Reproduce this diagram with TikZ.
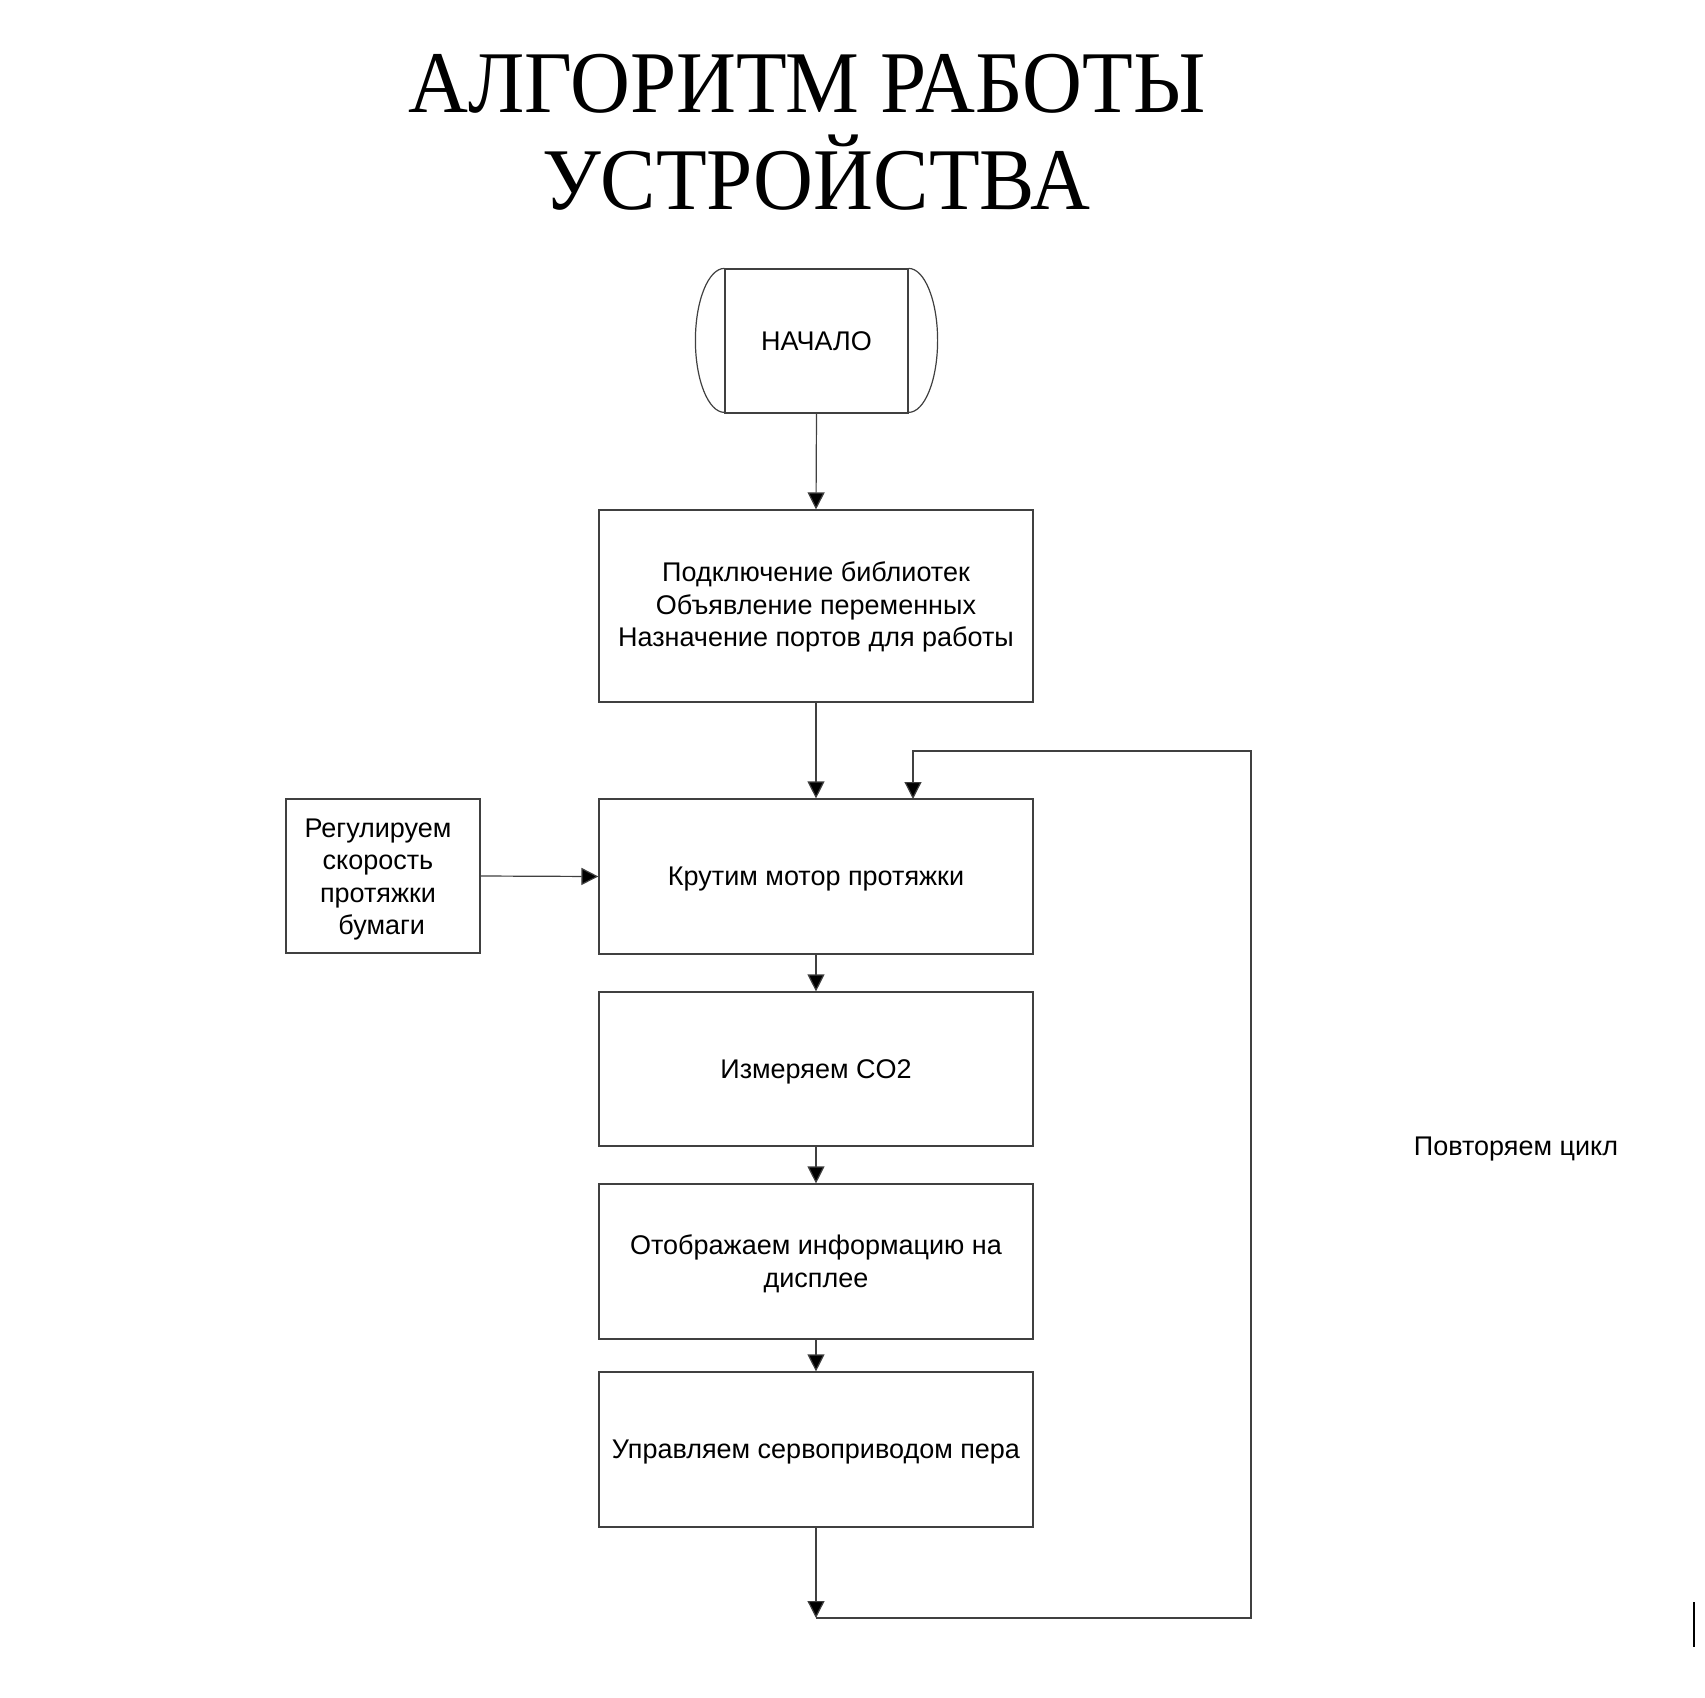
\documentclass[tikz,border=0pt]{standalone}
\usepackage{fontspec}
\setmainfont{Liberation Serif}
\newfontfamily\titlefont[FakeStretch=0.943]{Liberation Serif}
\newfontfamily\bodyfont{Liberation Sans}
\usetikzlibrary{arrows.meta}
\tikzset{
  boxshape/.style={draw=black!75, line width=1.2pt, inner sep=0pt},
  stepbox/.style={boxshape, minimum width=434pt},
  bodytext/.style={font=\bodyfont\fontsize{27}{32.6}\selectfont, align=center, inner sep=0pt},
  arr/.style={draw=black!75, line width=1.2pt, -{Triangle[length=17pt,width=17pt,fill=black]}},
  conn/.style={draw=black!75, line width=1.2pt},
  titletext/.style={font=\titlefont\fontsize{88}{100}\selectfont, anchor=base, inner sep=0pt}
}
\begin{document}
\begin{tikzpicture}[x=1pt,y=-1pt]
\useasboundingbox[fill=white] (0,0) rectangle (1705,1697);
% title
\node[titletext] (t1) at (807,112) {АЛГОРИТМ РАБОТЫ};
\node[titletext] (t2) at (816,209) {УСТРОЙСТВА};
% start terminator
\node[boxshape, minimum width=183pt, minimum height=144pt] (start) at (816.5,341) {};
\node[bodytext] (startt) at (816.5,341) {НАЧАЛО};
\draw[conn] (start.north west) arc[start angle=90, end angle=270, x radius=29pt, y radius=72pt];
\draw[conn] (start.north east) arc[start angle=90, end angle=-90, x radius=29pt, y radius=72pt];
% boxes
\node[stepbox, minimum height=192pt] (b1) at (816,606) {};
\node[bodytext] (b1t) at (816,607) {Подключение библиотек\\Объявление переменных\\Назначение портов для работы};
\node[stepbox, minimum height=155pt] (b2) at (816,876.5) {};
\node[bodytext] (b2t) at (816,879) {Крутим мотор протяжки};
\node[stepbox, minimum height=154pt] (b3) at (816,1069) {};
\node[bodytext] (b3t) at (816,1071.5) {Измеряем CO2};
\node[stepbox, minimum height=155pt] (b4) at (816,1261.5) {};
\node[bodytext] (b4t) at (816,1263.5) {Отображаем информацию на\\дисплее};
\node[stepbox, minimum height=155pt] (b5) at (816,1449.5) {};
\node[bodytext] (b5t) at (816,1452) {Управляем сервоприводом пера};
\node[boxshape, minimum width=194pt, minimum height=154pt] (lb) at (383,876) {};
\node[bodytext] (lbt) at (378,879.5) {Регулируем\\скорость\\протяжки\\\ бумаги};
% label
\node[bodytext] (rep) at (1516,1149) {Повторяем цикл};
% connectors
\draw[arr] (start.south) -- (b1.north);
\draw[arr] (b1.south) -- (b2.north);
\draw[arr] (lb.east) -- (b2.west);
\draw[arr] (b2.south) -- (b3.north);
\draw[arr] (b3.south) -- (b4.north);
\draw[arr] (b4.south) -- (b5.north);
\coordinate (lpb) at (816,1618);
\coordinate (lpr) at (1251,1618);
\coordinate (lpt) at (1251,751);
\coordinate (lpi) at (913,799);
\draw[arr] (b5.south) -- (lpb);
\draw[arr] (lpb) -- (lpr) -- (lpt) -| (lpi);
% small mark at right edge
\coordinate (m1) at (1694,1602);
\coordinate (m2) at (1694,1647);
\draw[line width=1.5pt] (m1) -- (m2);
\end{tikzpicture}
\end{document}
